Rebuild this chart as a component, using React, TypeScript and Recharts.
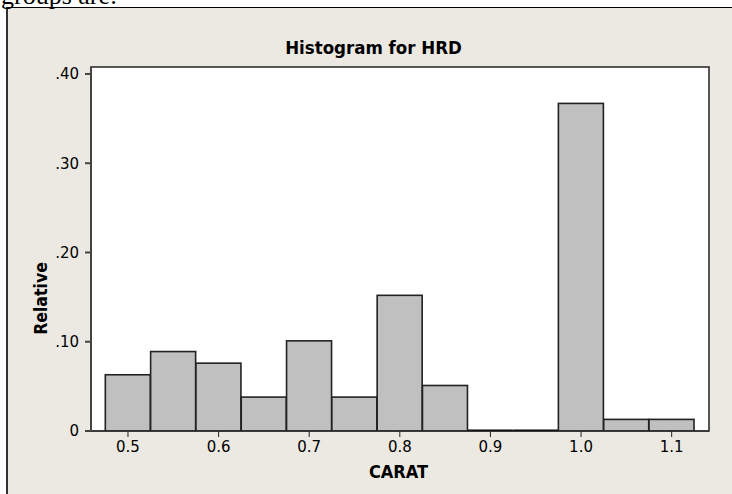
import React from 'react';
import { BarChart, Bar, XAxis, YAxis, CartesianGrid, ReferenceArea } from 'recharts';

// histogram bins (bin centres, width .05) and relative frequencies
const binCenters = [0.5, 0.55, 0.6, 0.65, 0.7, 0.75, 0.8, 0.85, 0.9, 0.95, 1.0, 1.05, 1.1];
const relative = [0.063, 0.089, 0.076, 0.038, 0.101, 0.038, 0.152, 0.051, 0, 0, 0.367, 0.013, 0.013];
const xTicks = [0.5, 0.6, 0.7, 0.8, 0.9, 1.0, 1.1];
const yTicks = [0, 0.1, 0.2, 0.3, 0.4];

const data = binCenters.map((c, i) => ({ carat: c, rel: relative[i] }));

const X_MIN = 0.4592;
const X_MAX = 1.1412;
const Y_MAX = 0.4078;

const labelFont = "'DejaVu Sans Condensed', 'DejaVu Sans'";

function HistBar(props: any) {
  const { x, y, width, height } = props;
  if (!height || Math.abs(height) < 0.5) {
    return <line x1={x} x2={x + width} y1={y} y2={y} stroke="#000" strokeWidth={3} />;
  }
  return <rect x={x} y={y} width={width} height={height} fill="#c0c0c0" stroke="#222" strokeWidth={1.6} />;
}

function XTick(props: any) {
  const { x, y, payload } = props;
  return (
    <text x={x} y={y} dy="0.75em" textAnchor="middle" fontFamily="DejaVu Sans" fontSize={15} fill="#000">
      {Number(payload.value).toFixed(1)}
    </text>
  );
}

function YTick(props: any) {
  const { x, y, payload } = props;
  const v = Number(payload.value);
  return (
    <text x={x} y={y} dy="0.36em" textAnchor="end" fontFamily="DejaVu Sans" fontSize={15} fill="#000">
      {v === 0 ? '0' : v.toFixed(2).replace(/^0/, '')}
    </text>
  );
}

export default function App() {
  return (
    <div style={{ position: 'fixed', left: 0, top: 0, width: 732, height: 494, background: '#fff', overflow: 'hidden' }}>
      <div style={{ position: 'absolute', left: 6, top: 7, width: 740, height: 500, background: '#ECE9E2', borderLeft: '2px solid #333', borderTop: '1px solid #000' }} />
      <svg width={732} height={494} style={{ position: 'absolute', left: 0, top: 0 }}>
        <text x={1} y={4} fontFamily="'Liberation Serif'" fontSize={26} fill="#000">groups are:</text>
      </svg>
      <div style={{ position: 'absolute', left: 0, top: 0 }}>
        <BarChart width={732} height={494} data={data} margin={{ top: 67, right: 23, bottom: 23, left: 0 }}
          barCategoryGap={0} barGap={0}>
          <CartesianGrid horizontal={false} vertical={false} fill="#fff" />
          <XAxis dataKey="carat" type="number" domain={[X_MIN, X_MAX]} ticks={xTicks} allowDataOverflow
            height={40} tickSize={6} tickMargin={4} tick={<XTick />} stroke="#222" />
          <YAxis type="number" domain={[0, Y_MAX]} ticks={yTicks} allowDataOverflow width={91}
            tickSize={6} tickMargin={6} tick={<YTick />} stroke="#444" strokeWidth={2} />
          <Bar dataKey="rel" shape={HistBar} isAnimationActive={false} />
          <ReferenceArea x1={X_MIN} x2={X_MAX} y1={0} y2={Y_MAX} fill="none" stroke="#222" strokeWidth={1.5} />
        </BarChart>
      </div>
      <svg width={732} height={494} style={{ position: 'absolute', left: 0, top: 0, pointerEvents: 'none' }}>
        <text x={373.5} y={54} textAnchor="middle" fontFamily={labelFont} fontStretch="condensed" fontWeight="bold" fontSize={18.5} fill="#000">Histogram for HRD</text>
        <text x={398.5} y={478} textAnchor="middle" fontFamily={labelFont} fontStretch="condensed" fontWeight="bold" fontSize={18} fill="#000">CARAT</text>
        <text x={46.5} y={298.5} transform="rotate(-90, 46.5, 298.5)" textAnchor="middle" fontFamily={labelFont} fontStretch="condensed" fontWeight="bold" fontSize={17.5} fill="#000">Relative</text>
      </svg>
    </div>
  );
}
